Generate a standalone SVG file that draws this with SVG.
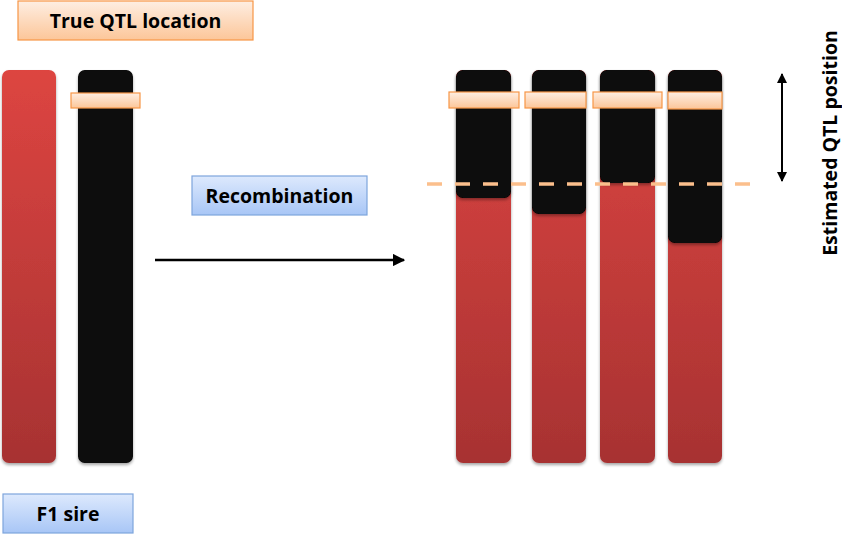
<svg xmlns="http://www.w3.org/2000/svg" width="842" height="534" viewBox="0 0 842 534">
<defs>
  <linearGradient id="red" x1="0" y1="0" x2="0" y2="1">
    <stop offset="0" stop-color="#dd4541"/>
    <stop offset="1" stop-color="#a73232"/>
  </linearGradient>
  <linearGradient id="peach" x1="0" y1="0" x2="0" y2="1">
    <stop offset="0" stop-color="#feeee2"/>
    <stop offset="1" stop-color="#fcc699"/>
  </linearGradient>
  <linearGradient id="blue" x1="0" y1="0" x2="0" y2="1">
    <stop offset="0" stop-color="#dde9fd"/>
    <stop offset="1" stop-color="#a8c6f6"/>
  </linearGradient>
  <filter id="sh" x="-20%" y="-5%" width="140%" height="110%">
    <feDropShadow dx="0" dy="2" stdDeviation="1.5" flood-color="#000" flood-opacity="0.35"/>
  </filter>
  <marker id="ah" viewBox="0 0 10 10" refX="9" refY="5" markerWidth="5" markerHeight="5" orient="auto-start-reverse">
    <path d="M0,0 L10,5 L0,10 z" fill="#000"/>
  </marker>
</defs>
<style>
  .lbl { font-family: "Open Sans", "Liberation Sans", sans-serif; font-weight: bold; font-size: 19.5px; fill: #000; }
  .peachbox { fill: url(#peach); stroke: #f79646; stroke-width: 1.2; }
  .bluebox { fill: url(#blue); stroke: #7ea5dc; stroke-width: 1.2; }
  .redchr { fill: url(#red); filter: url(#sh); }
  .blkchr { fill: #070707; filter: url(#sh); }
  .band { fill: url(#peach); stroke: #f79646; stroke-width: 1.2; }
</style>

<g id="true-qtl-label">
  <rect class="peachbox" x="18" y="1" width="235" height="39"/>
  <text class="lbl" x="135.5" y="27.5" text-anchor="middle">True QTL location</text>
</g>

<g id="f1-red">
  <rect class="redchr" x="2" y="70" width="54" height="393" rx="7"/>
</g>
<g id="f1-black">
  <rect class="blkchr" x="78" y="70" width="55" height="393" rx="7"/>
  <rect class="band" x="71" y="93" width="69" height="15"/>
</g>

<g id="f1-sire-label">
  <rect class="bluebox" x="3" y="494" width="130" height="39"/>
  <text class="lbl" x="68" y="520.5" text-anchor="middle">F1 sire</text>
</g>

<g id="recombination-label">
  <rect class="bluebox" x="192" y="176" width="175" height="39"/>
  <text class="lbl" x="279.5" y="202.5" text-anchor="middle">Recombination</text>
</g>

<g id="chr1">
  <rect class="redchr" x="456" y="70" width="55" height="393" rx="7"/>
  <rect class="blkchr" x="456" y="70" width="55" height="128" rx="7"/>
  <rect class="band" x="449" y="92" width="70" height="16"/>
</g>
<g id="chr2">
  <rect class="redchr" x="532" y="70" width="54" height="393" rx="7"/>
  <rect class="blkchr" x="532" y="70" width="54" height="144" rx="7"/>
  <rect class="band" x="525" y="92" width="61" height="16"/>
</g>
<g id="chr3">
  <rect class="redchr" x="600" y="70" width="55" height="393" rx="7"/>
  <rect class="blkchr" x="600" y="70" width="55" height="113" rx="7"/>
  <rect class="band" x="593" y="92" width="69" height="16"/>
</g>
<g id="chr4">
  <rect class="redchr" x="668" y="70" width="54" height="393" rx="7"/>
  <rect class="blkchr" x="668" y="70" width="54" height="173" rx="7"/>
  <rect class="band" x="668" y="92" width="54" height="17"/>
</g>

<g id="estimated-label">
  <text class="lbl" transform="translate(837,143) rotate(-90)" text-anchor="middle" style="font-size:19.5px">Estimated QTL position</text>
</g>

<g id="connectors">
  <line x1="155" y1="260" x2="404" y2="260" stroke="#000" stroke-width="2.5" marker-end="url(#ah)"/>
  <line x1="427" y1="184" x2="752" y2="184" stroke="#fbbf8c" stroke-width="3.5" stroke-dasharray="15 13"/>
  <line x1="782" y1="74" x2="782" y2="181" stroke="#000" stroke-width="2" marker-start="url(#ah)" marker-end="url(#ah)"/>
</g>
</svg>
